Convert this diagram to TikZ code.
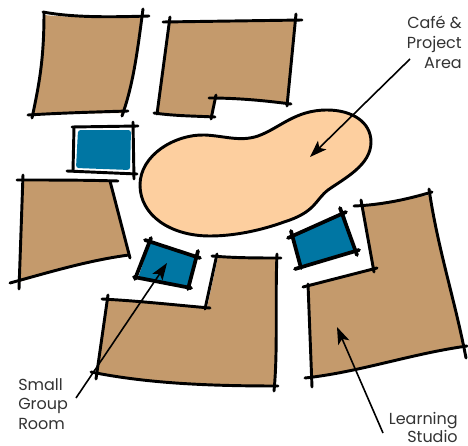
\documentclass[tikz,border=0pt]{standalone}
\usepackage{fontspec}
\setmainfont{Poppins}
\usetikzlibrary{arrows.meta}
\definecolor{roomtan}{HTML}{C49A6C}
\definecolor{cafe}{HTML}{FDCF9F}
\definecolor{blueroom}{HTML}{0076A3}
\definecolor{ink}{HTML}{333333}
\tikzset{
  px/.style={x=0.75pt,y=-0.75pt},
  wall/.style={draw=black,line width=2.2pt,line cap=round},
  thick wall/.style={draw=black,line width=2.8pt,line cap=round},
  roomfill/.style={fill=roomtan},
  bluefill/.style={fill=blueroom},
  pointer/.style={draw=black,line width=1.2pt,-{Stealth[length=17pt*0.75,width=12pt*0.75,inset=3pt]}},
  lab/.style={font=\fontsize{12}{14}\selectfont,text=ink,inner sep=0pt},
}
\begin{document}
\begin{tikzpicture}[px]
\path[use as bounding box,fill=white] (0,0) rectangle (468,446);
% top-left room
\fill[roomfill] (44,15) .. controls (75,18) and (110,17) .. (141,16) .. controls (136,55) and (132,85) .. (124,113) -- (33,114) .. controls (38,85) and (44,60) .. (44,15) -- cycle;
\draw[wall] (43,12) .. controls (75,18) and (115,17) .. (149,16);
\draw[wall] (143,9) .. controls (137,55) and (133,85) .. (122,116);
\draw[wall] (128,111) .. controls (95,112) and (60,113) .. (28,115);
\draw[wall] (44,13) .. controls (44,60) and (39,85) .. (32,118);
% top-middle room
\fill[roomfill] (170,21) -- (296,20) -- (287,103) -- (215,98) -- (212,116) -- (157,113) -- cycle;
\draw[wall] (163,22) -- (302,20);
\draw[wall] (170,17) -- (157,114);
\draw[wall] (154,113) .. controls (175,116) and (195,116) .. (215,117);
\draw[wall] (216,95) -- (211,119);
\draw[wall] (209,98) .. controls (235,98) and (260,100) .. (291,104);
\draw[wall] (296,14) -- (287,106);
% blue room 1
\fill[bluefill,rounded corners=2pt] (78,130) -- (131,130) -- (130,170) -- (76,168) -- cycle;
\draw[wall] (72,127) -- (138,126);
\draw[wall] (133,122) -- (134,179);
\draw[wall] (67,171) -- (137,174);
\draw[wall] (74,127) -- (73,171);
% left room
\fill[roomfill] (23,180) -- (111,181) -- (129,256) .. controls (90,262) and (50,272) .. (19,282) -- cycle;
\draw[wall] (17,180) .. controls (50,180) and (85,180) .. (118,181);
\draw[wall] (23,175) -- (19,289);
\draw[wall] (10,283) .. controls (50,272) and (90,260) .. (129,255);
\draw[wall] (110,181) -- (130,258);
% cafe blob
\draw[wall,fill=cafe] (140,185) .. controls (140,155) and (175,134) .. (205,135) .. controls (225,136) and (240,142) .. (258,136) .. controls (280,128) and (295,110) .. (327,110) .. controls (352,110) and (371,122) .. (371,142) .. controls (371,165) and (345,178) .. (328,190) .. controls (315,200) and (316,212) .. (284,222) .. controls (262,230) and (235,236) .. (210,236) .. controls (170,236) and (140,215) .. (140,185) -- cycle;
% blue room 2
\fill[bluefill] (150,243) -- (197,256) -- (189,286) -- (138,278) -- cycle;
\draw[thick wall] (145,240) -- (200,258);
\draw[thick wall] (151,238) -- (135,279);
\draw[thick wall] (134,277) -- (191,288);
\draw[thick wall] (198,251) -- (188,289);
% bottom room
\fill[roomfill] (108,300) -- (207,308) -- (218,257) -- (277,258) -- (275,386) .. controls (215,385) and (150,382) .. (96,373) -- cycle;
\draw[wall] (102,299) .. controls (140,301) and (175,305) .. (210,308);
\draw[wall] (217,254) -- (205,309);
\draw[wall] (212,256) .. controls (235,258) and (258,258) .. (281,258);
\draw[wall] (277,254) .. controls (275,300) and (278,350) .. (274,391);
\draw[wall] (91,372) .. controls (150,384) and (215,386) .. (278,386);
\draw[wall] (108,295) -- (96,379);
% blue room 3
\fill[bluefill] (293,236) -- (344,212) -- (355,251) -- (299,266) -- cycle;
\draw[thick wall] (288,238) -- (346,212);
\draw[thick wall] (340,208) -- (357,255);
\draw[thick wall] (295,269) -- (359,250);
\draw[thick wall] (291,231) -- (301,268);
% learning studio
\fill[roomfill] (362,205) -- (429,195) -- (464,347) .. controls (410,355) and (360,372) .. (312,377) -- (307,286) -- (373,268) -- cycle;
\draw[wall] (354,206) .. controls (380,205) and (405,200) .. (432,192);
\draw[wall] (429,189) .. controls (438,250) and (455,300) .. (466,358);
\draw[wall] (305,378) .. controls (360,372) and (410,354) .. (467,346);
\draw[wall] (308,284) -- (312,387);
\draw[wall] (303,287) -- (377,268);
\draw[wall] (361,200) -- (374,272);
% labels
\node[lab,anchor=base east] (cafelab1) at (462,28) {Café \&};
\node[lab,anchor=base east] (cafelab2) at (462,48) {Project};
\node[lab,anchor=base east] (cafelab3) at (462,68) {Area};
\node[lab,anchor=base west] (smalllab1) at (18,390) {Small};
\node[lab,anchor=base west] (smalllab2) at (18,409) {Group};
\node[lab,anchor=base west] (smalllab3) at (18,429) {Room};
\node[lab,anchor=base east] (learnlab1) at (458,424) {Learning};
\node[lab,anchor=base east] (learnlab2) at (458,442.5) {Studio};
% pointers
\coordinate (cafestart) at (410,59);
\coordinate (cafetip) at (310,157);
\coordinate (smallstart) at (76,398);
\coordinate (smalltip) at (167,263);
\coordinate (learnstart) at (383,433);
\coordinate (learntip) at (337,327);
\draw[pointer] (cafestart) -- (cafetip);
\draw[pointer] (smallstart) -- (smalltip);
\draw[pointer] (learnstart) -- (learntip);
\end{tikzpicture}
\end{document}
